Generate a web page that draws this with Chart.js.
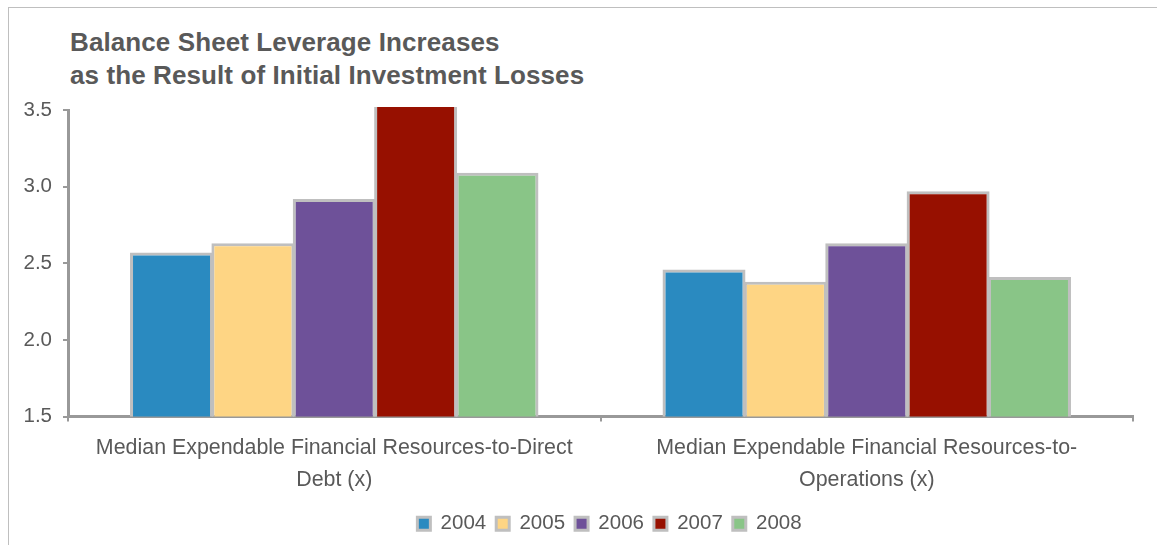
<!DOCTYPE html>
<html>
<head>
<meta charset="utf-8">
<script src="https://cdn.jsdelivr.net/npm/chart.js@4.4.1/dist/chart.umd.min.js"></script>
<style>
  html, body { margin: 0; padding: 0; background: #fff; }
  body { width: 1157px; height: 545px; position: relative; overflow: hidden; }
  #marco { position: absolute; left: 8px; top: 7px; width: 1300px; height: 700px; border: 1px solid #bfbfbf; }
  #titulo {
    position: absolute; left: 70px; top: 26px;
    font: bold 26px 'Liberation Sans', Arial, sans-serif; line-height: 33px;
    color: #595959; letter-spacing: 0.1px;
  }
  #lienzo { position: absolute; left: 0; top: 0; }
</style>
</head>
<body>
<div id="marco"></div>
<div id="titulo">Balance Sheet Leverage Increases<br>as the Result of Initial Investment Losses</div>
<canvas id="lienzo" width="1157" height="545"></canvas>
<script>
// Categorías (etiquetas del eje X, ya partidas en dos líneas)
const categorias = [
  ['Median Expendable Financial Resources-to-Direct', 'Debt (x)'],
  ['Median Expendable Financial Resources-to-', 'Operations (x)']
];
const anios = ['2004', '2005', '2006', '2007', '2008'];

// Valores por año (primer grupo, segundo grupo)
const v2004 = [2.57, 2.46];
const v2005 = [2.63, 2.38];
const v2006 = [2.92, 2.63];
const v2007 = [3.60, 2.97];
const v2008 = [3.09, 2.41];

const colores = ['#2A8AC0', '#FED584', '#6E5199', '#971000', '#89C587'];
const ticksY = [1.5, 2.0, 2.5, 3.0, 3.5];

const GRIS_TEXTO = '#595959';
const GRIS_EJE = '#999999';
const FUENTE = "'Liberation Sans', Arial, sans-serif";

const series = [v2004, v2005, v2006, v2007, v2008];

// La leyenda va algo desplazada a la derecha respecto al lienzo
const moverLeyenda = {
  id: 'moverLeyenda',
  afterLayout(chart) {
    chart.legend.left += 43;
    chart.legend.right += 43;
  }
};

new Chart(document.getElementById('lienzo'), {
  type: 'bar',
  data: {
    labels: categorias,
    datasets: series.map((vals, i) => ({
      label: anios[i],
      data: vals,
      backgroundColor: colores[i],
      borderColor: '#BFBFBF',
      borderWidth: 3,
      borderSkipped: 'bottom',
      categoryPercentage: 0.764,
      barPercentage: 1.02,
      // las barras arrancan en 0: se recortan abajo en el eje y arriba un poco por encima
      clip: { left: false, right: false, top: 3, bottom: 0 }
    }))
  },
  options: {
    responsive: false,
    animation: false,
    layout: { padding: { top: 110, right: 24, bottom: 1, left: 0 } },
    plugins: {
      title: { display: false },
      tooltip: { enabled: false },
      legend: {
        position: 'bottom',
        labels: {
          boxWidth: 13,
          boxHeight: 13,
          padding: 10,
          color: GRIS_TEXTO,
          font: { family: FUENTE, size: 20.5 }
        }
      }
    },
    scales: {
      x: {
        grid: { drawOnChartArea: false, drawTicks: true, tickLength: 5, color: GRIS_EJE, lineWidth: 2, offset: true },
        border: { display: true, color: GRIS_EJE, width: 3 },
        ticks: {
          color: GRIS_TEXTO,
          padding: 11,
          maxRotation: 0,
          autoSkip: false,
          font: { family: FUENTE, size: 21.4, lineHeight: '32px' }
        },
        afterFit(scale) { scale.height = 87; }
      },
      y: {
        min: 1.5,
        max: 3.5,
        grid: { drawOnChartArea: false, drawTicks: true, tickLength: 5, color: GRIS_EJE, lineWidth: 2 },
        border: { display: true, color: GRIS_EJE, width: 3 },
        afterBuildTicks(scale) { scale.ticks = ticksY.map(v => ({ value: v })); },
        ticks: {
          color: GRIS_TEXTO,
          padding: 11,
          font: { family: FUENTE, size: 20.5 },
          callback: v => v.toFixed(1)
        },
        afterFit(scale) { scale.width = 68; }
      }
    }
  },
  plugins: [moverLeyenda]
});
</script>
</body>
</html>
